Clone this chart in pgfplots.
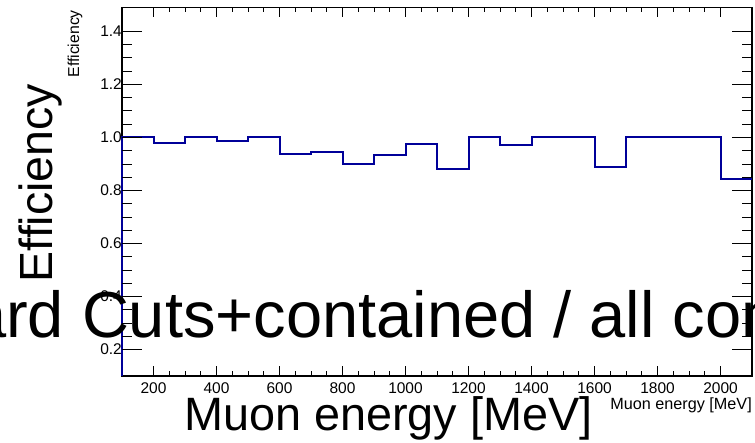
\documentclass[border=0pt]{standalone}
\usepackage{pgfplots}
\pgfplotsset{compat=1.18}
\usepackage{pgfplotstable}
\usepackage{fontspec}
\setmainfont{Liberation Sans}

\definecolor{histblue}{RGB}{0,0,153}

% efficiency per 100 MeV bin (left bin edge, value)
\pgfplotstableread{
E eff
100 0.100
100 1.000
200 0.977
300 1.000
400 0.988
500 1.000
600 0.938
700 0.946
800 0.898
900 0.935
1000 0.976
1100 0.880
1200 1.000
1300 0.972
1400 1.000
1500 1.000
1600 0.889
1700 1.000
1800 1.000
1900 1.000
2000 0.844
2100 0.844
}\efftable

\pgfplotsset{
  rootframe/.style={
    scale only axis, width=630pt, height=368.5pt,
    at={(122pt,66pt)}, anchor=south west,
    xmin=100, xmax=2100, ymin=0.1, ymax=1.49,
    tick align=inside,
    tick style={black, line width=0.8pt},
    /pgf/number format/assume math mode=true,
    tick label style={font=\fontsize{15.5}{18}\selectfont},
    clip=false,
  },
}

\begin{document}
\begin{tikzpicture}[x=1pt, y=1pt]
\path[use as bounding box] (0,0) rectangle (755,442);

% frame, histogram and x ticks
\begin{axis}[rootframe,
  axis line style={black, line width=1.4pt},
  xtick={200,400,...,2000}, minor x tick num=3,
  xtick pos=both, xticklabel pos=bottom,
  major tick length=10pt, minor tick length=5pt,
  ytick=\empty,
  xticklabel style={anchor=north, inner sep=0pt, yshift=-6pt,
    /pgf/number format/set thousands separator={}},
]
\addplot[histblue, line width=2pt, const plot mark left, mark=none]
  table[x=E, y=eff] {\efftable};
\end{axis}

% y ticks
\begin{axis}[rootframe,
  axis line style={draw=none},
  xtick=\empty,
  ytick={0.2,0.4,...,1.4}, minor y tick num=3,
  ytick pos=both, yticklabel pos=left,
  major tick length=20pt, minor tick length=10pt,
  yticklabel style={anchor=east, inner sep=0pt,
    /pgf/number format/.cd, fixed, fixed zerofill, precision=1},
]
\addplot[draw=none] coordinates {(100,0.5)};
\end{axis}

% axis titles
\node[inner sep=0pt, rotate=90, anchor=base east,
  font=\fontsize{15.8}{18}\selectfont] at (79,432) {Efficiency};
\node[inner sep=0pt, anchor=base east,
  font=\fontsize{16.2}{18}\selectfont] at (752,32.5) {Muon energy [MeV]};

\node[inner sep=0pt, rotate=90, anchor=base,
  font=\fontsize{46.5}{50}\selectfont] at (52,259) {Efficiency};
\node[inner sep=0pt, anchor=base,
  font=\fontsize{46.8}{50}\selectfont] at (388.5,12) {Muon energy [MeV]};

% histogram title
\node[inner sep=0pt, anchor=base,
  font=\fontsize{65}{70}\selectfont] at (377.5,104)
  {Standard Cuts+contained / all contained};
\end{tikzpicture}
\end{document}
